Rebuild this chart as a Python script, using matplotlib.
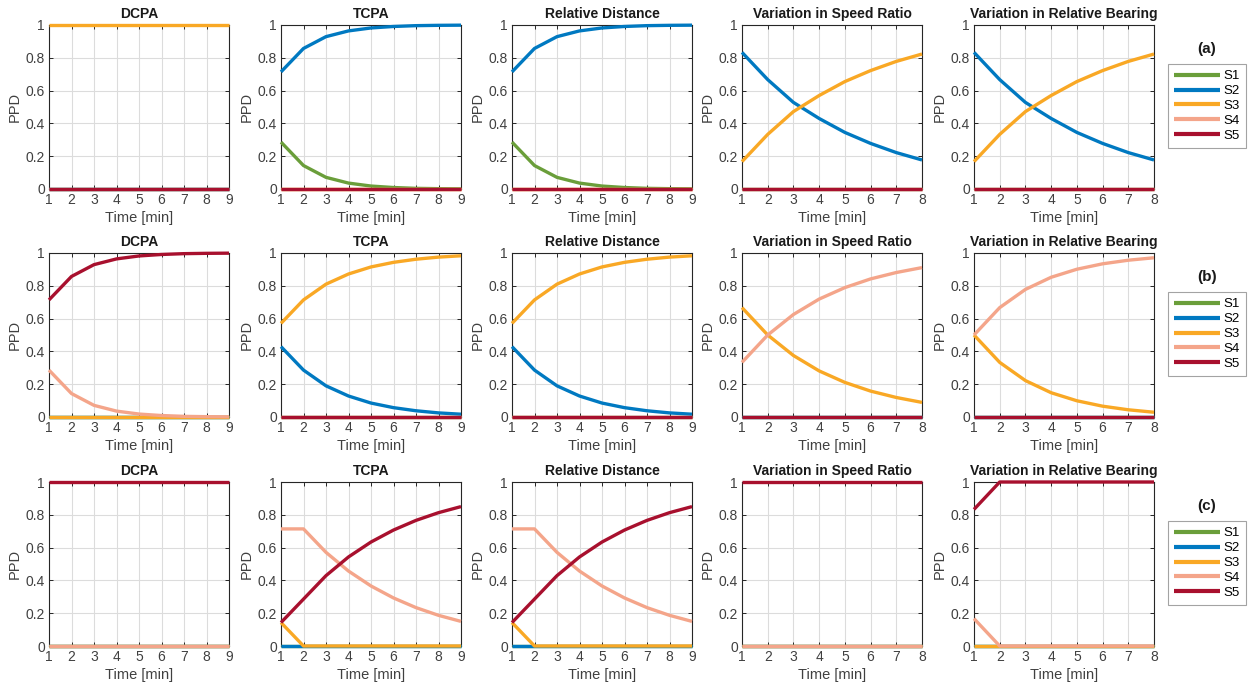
import matplotlib
matplotlib.use("Agg")
import matplotlib.pyplot as plt
from matplotlib.ticker import FuncFormatter

plt.rcParams['font.family'] = ['Liberation Sans', 'DejaVu Sans']

series_names = ["S1", "S2", "S3", "S4", "S5"]
colors = ["#6A9E3A", "#0079C1", "#F9A825", "#F4A58A", "#A8102E"]
titles = ["DCPA", "TCPA", "Relative Distance", "Variation in Speed Ratio",
          "Variation in Relative Bearing"]
row_labels = ["(a)", "(b)", "(c)"]

t9 = [1, 2, 3, 4, 5, 6, 7, 8, 9]
t8 = [1, 2, 3, 4, 5, 6, 7, 8]

z9 = [0, 0, 0, 0, 0, 0, 0, 0, 0]
o9 = [1, 1, 1, 1, 1, 1, 1, 1, 1]
z8 = [0, 0, 0, 0, 0, 0, 0, 0]
o8 = [1, 1, 1, 1, 1, 1, 1, 1]

# Row (a)
a_dcpa = [z9, z9, o9, z9, z9]
a_tcpa_s1 = [0.286, 0.143, 0.071, 0.036, 0.018, 0.009, 0.004, 0.002, 0.001]
a_tcpa_s2 = [0.714, 0.857, 0.929, 0.964, 0.982, 0.991, 0.996, 0.998, 0.999]
a_tcpa = [a_tcpa_s1, a_tcpa_s2, z9, z9, z9]
a_dist = [a_tcpa_s1, a_tcpa_s2, z9, z9, z9]
a_speed_s2 = [0.833, 0.667, 0.528, 0.430, 0.345, 0.278, 0.222, 0.177]
a_speed_s3 = [0.167, 0.333, 0.472, 0.570, 0.655, 0.722, 0.778, 0.823]
a_speed = [z8, a_speed_s2, a_speed_s3, z8, z8]
a_bear = [z8, a_speed_s2, a_speed_s3, z8, z8]

# Row (b)
b_dcpa_s4 = [0.286, 0.143, 0.071, 0.036, 0.018, 0.009, 0.004, 0.002, 0.001]
b_dcpa_s5 = [0.714, 0.857, 0.929, 0.964, 0.982, 0.991, 0.996, 0.998, 0.999]
b_dcpa = [z9, z9, z9, b_dcpa_s4, b_dcpa_s5]
b_tcpa_s2 = [0.429, 0.286, 0.190, 0.128, 0.085, 0.057, 0.038, 0.025, 0.017]
b_tcpa_s3 = [0.571, 0.714, 0.810, 0.872, 0.915, 0.943, 0.962, 0.975, 0.983]
b_tcpa = [z9, b_tcpa_s2, b_tcpa_s3, z9, z9]
b_dist = [z9, b_tcpa_s2, b_tcpa_s3, z9, z9]
b_speed_s3 = [0.667, 0.500, 0.375, 0.281, 0.211, 0.158, 0.119, 0.089]
b_speed_s4 = [0.333, 0.500, 0.625, 0.719, 0.789, 0.842, 0.881, 0.911]
b_speed = [z8, z8, b_speed_s3, b_speed_s4, z8]
b_bear_s3 = [0.500, 0.333, 0.222, 0.148, 0.099, 0.066, 0.044, 0.029]
b_bear_s4 = [0.500, 0.667, 0.778, 0.852, 0.901, 0.934, 0.956, 0.971]
b_bear = [z8, z8, b_bear_s3, b_bear_s4, z8]

# Row (c)
c_dcpa = [z9, z9, z9, z9, o9]
c_tcpa_s3 = [0.143, 0, 0, 0, 0, 0, 0, 0, 0]
c_tcpa_s4 = [0.714, 0.714, 0.571, 0.457, 0.366, 0.293, 0.234, 0.187, 0.150]
c_tcpa_s5 = [0.143, 0.286, 0.429, 0.543, 0.634, 0.707, 0.766, 0.813, 0.850]
c_tcpa = [z9, z9, c_tcpa_s3, c_tcpa_s4, c_tcpa_s5]
c_dist = [z9, z9, c_tcpa_s3, c_tcpa_s4, c_tcpa_s5]
c_speed = [z8, z8, z8, z8, o8]
c_bear_s4 = [0.167, 0, 0, 0, 0, 0, 0, 0]
c_bear_s5 = [0.833, 1, 1, 1, 1, 1, 1, 1]
c_bear = [z8, z8, z8, c_bear_s4, c_bear_s5]

rows = [
    [a_dcpa, a_tcpa, a_dist, a_speed, a_bear],
    [b_dcpa, b_tcpa, b_dist, b_speed, b_bear],
    [c_dcpa, c_tcpa, c_dist, c_speed, c_bear],
]

W, H = 1257, 682
fig = plt.figure(figsize=(W / 100, H / 100), dpi=100)

col_left = [49, 281, 512, 742, 974]
row_top = [25, 253, 482]
ax_w, ax_h = 180, 164

fmt = FuncFormatter(lambda v, p: "%g" % round(v, 2))
axcol = "#262626"
tickcol = "#404040"

for r in range(3):
    for c in range(5):
        x0 = col_left[c] / W
        y0 = 1 - (row_top[r] + ax_h) / H
        ax = fig.add_axes([x0, y0, ax_w / W, ax_h / H])
        data = rows[r][c]
        tt = t9 if c < 3 else t8
        lines = []
        for k in range(5):
            ln, = ax.plot(tt, data[k], color=colors[k], lw=2.4,
                          solid_capstyle='butt', clip_on=False, zorder=3 + k)
            lines.append(ln)
        ax.set_xlim(tt[0], tt[-1])
        ax.set_ylim(0, 1)
        ax.set_xticks(tt)
        ax.set_yticks([0, 0.2, 0.4, 0.6, 0.8, 1])
        ax.yaxis.set_major_formatter(fmt)
        ax.grid(True, color="#DCDCDC", lw=0.8)
        ax.set_axisbelow(True)
        ax.tick_params(direction='in', top=True, right=True, length=3,
                       labelsize=10, colors=axcol, labelcolor=tickcol,
                       pad=3, width=0.7)
        for s in ax.spines.values():
            s.set_color(axcol)
            s.set_linewidth(0.8)
        ax.set_title(titles[c], fontsize=10, fontweight='bold', color="#1a1a1a", pad=5)
        ax.set_xlabel("Time [min]", fontsize=10.5, color=tickcol, labelpad=3)
        ax.set_ylabel("PPD", fontsize=10.5, color=tickcol, labelpad=3)
        if c == 4:
            fig.text(1207 / W, 1 - (row_top[r] + 24) / H, row_labels[r],
                     fontsize=11, fontweight='bold', ha='center', va='center',
                     color="#1a1a1a")
            leg = fig.legend(lines, series_names, loc='center',
                             bbox_to_anchor=(1207 / W, 1 - (row_top[r] + 81) / H),
                             fontsize=9.5, frameon=True, fancybox=False,
                             handlelength=3.5, handletextpad=0.3,
                             labelspacing=0.2, borderpad=0.45,
                             borderaxespad=0)
            leg.get_frame().set_edgecolor("#8c8c8c")
            leg.get_frame().set_linewidth(0.8)
            for lh in leg.get_lines():
                lh.set_linewidth(3.0)

fig.savefig("out.png", dpi=100)
